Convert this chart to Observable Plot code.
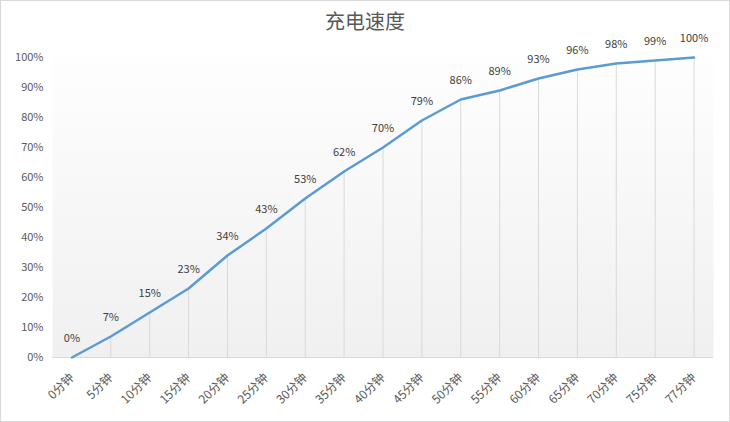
<!DOCTYPE html>
<html><head><meta charset="utf-8">
<script src="https://cdn.jsdelivr.net/npm/d3@7"></script>
<script src="https://cdn.jsdelivr.net/npm/@observablehq/plot@0.6"></script>
<style>
html,body{margin:0;padding:0;background:#fff;}
#wrap{width:730px;height:422px;box-sizing:border-box;border:1px solid #d9d9d9;background:#fff;overflow:hidden;}
#title{height:38px;line-height:40px;text-align:center;font-family:"Noto Sans CJK SC",sans-serif;font-size:20px;color:#595959;position:relative;z-index:0;}
#chart svg{overflow:visible;position:relative;z-index:1;}
</style></head>
<body><div id="wrap"><div id="title">充电速度</div><div id="chart"></div></div>
<script>
const categories = ["0分钟","5分钟","10分钟","15分钟","20分钟","25分钟","30分钟","35分钟","40分钟","45分钟","50分钟","55分钟","60分钟","65分钟","70分钟","75分钟","77分钟"];
const values = [0,7,15,23,34,43,53,62,70,79,86,89,93,96,98,99,100];
const yTicks = [0,10,20,30,40,50,60,70,80,90,100];

const data = categories.map((c,i)=>({cat:c, v:values[i]/100, label:values[i]+"%"}));
const font = "'Noto Sans CJK SC', sans-serif";

const chart = Plot.plot({
  width: 728, height: 382,
  marginTop: 18, marginBottom: 64, marginLeft: 51, marginRight: 16,
  style: {fontFamily: font, fontSize: "11px", color: "#595959", background: "transparent"},
  x: {type: "point", domain: categories, padding: 0.5, round: false, label: null},
  y: {domain: [0,1], label: null},
  marks: [
    Plot.frame({fill: "url(#bgGrad)", stroke: null}),
    Plot.ruleX(data, {x: "cat", y1: 0, y2: "v", stroke: "#d9d9d9", strokeWidth: 1}),
    Plot.ruleY([0], {stroke: "#d9d9d9", strokeWidth: 1}),
    Plot.axisY(yTicks.map(d=>d/100), {tickSize: 0, tickPadding: 9, tickFormat: d3.format(".0%"), fill: "#595959", fontSize: 11}),
    Plot.axisX({tickSize: 0, tickPadding: 18, tickRotate: -45, fill: "#595959", fontSize: 12}),
    Plot.line(data, {x: "cat", y: "v", stroke: "#5b9bd5", strokeWidth: 2.5, curve: "linear"}),
    Plot.text(data, {x: "cat", y: "v", text: "label", dy: -19, fill: "#404040", fontSize: 11})
  ]
});
const defs = document.createElementNS("http://www.w3.org/2000/svg","defs");
defs.innerHTML = '<linearGradient id="bgGrad" x1="0" y1="0" x2="0" y2="1"><stop offset="0" stop-color="#fefefe"/><stop offset="1" stop-color="#f0f0f0"/></linearGradient>';
chart.insertBefore(defs, chart.firstChild);
document.getElementById("chart").appendChild(chart);
</script></body></html>
